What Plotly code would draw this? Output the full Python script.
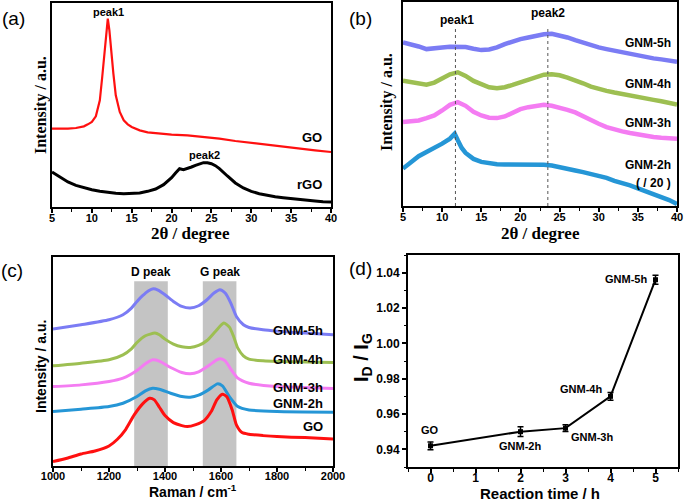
import plotly.graph_objects as go

W, H = 685, 503
SANS = "Liberation Sans, Arial, sans-serif"
SERIF = "Liberation Serif, Times New Roman, serif"

# ---------------- (a) XRD of GO and rGO ----------------
a_go_x = [5, 6, 7, 8, 9, 9.5, 10, 10.5, 11, 11.3, 11.6, 11.8, 12, 12.2, 12.4, 12.7, 13, 13.5, 14, 14.5,
          15, 16, 17, 18, 20, 22, 24, 26, 28, 30, 32, 34, 36, 38, 40]
a_go_y = [235, 234, 235, 237, 242, 248, 255, 272, 320, 390, 460, 525, 565, 530, 470, 400, 335, 285, 260, 248,
          240, 230, 224, 221, 217, 215, 211, 205, 198, 192, 187, 181, 176, 170, 165]
a_rgo_x = [5, 6, 7, 8, 9, 10, 11, 12, 13, 14, 15, 16, 17, 18, 19, 20, 20.5, 21, 21.5, 22, 22.5, 23, 23.5,
           24, 24.5, 25, 25.5, 26, 27, 28, 29, 30, 31, 32, 33, 34, 35, 36, 37, 38, 39, 40]
a_rgo_y = [105, 90, 75, 65, 58, 52, 47, 43, 41, 40, 40, 42, 47, 54, 67, 88, 102, 115, 112, 115, 120, 125, 130,
           133, 133, 130, 124, 115, 93, 72, 57, 47, 40, 35, 31, 28, 25, 22, 20, 18, 16, 15]

# ---------------- (b) XRD of GNM samples ----------------
b_x = [5, 6, 7, 8, 9, 10, 11, 12, 13, 14, 15, 16, 17, 18, 19, 20, 21, 22, 23, 24, 25, 26, 27, 28, 29, 30,
       31, 32, 33, 34, 35, 36, 37, 38, 39, 40]
b_5h = [493, 488, 481, 473, 474, 478, 480, 481, 479, 474, 470, 472, 478, 488, 496, 503, 508, 513, 518, 519,
        515, 508, 500, 492, 485, 478, 473, 468, 463, 458, 453, 449, 445, 442, 438, 435]
b_4h = [378, 373, 368, 366, 372, 385, 397, 403, 392, 377, 367, 358, 355, 358, 365, 373, 382, 390, 396, 397,
        394, 387, 380, 370, 360, 352, 347, 342, 337, 332, 328, 324, 320, 316, 310, 306]
b_3h = [253, 254, 258, 265, 273, 288, 305, 313, 302, 284, 273, 266, 265, 270, 282, 292, 298, 302, 305, 302,
        297, 290, 282, 270, 258, 248, 238, 230, 225, 220, 215, 211, 208, 206, 204, 203]
b_2h_x = [5, 6, 7, 8, 9, 10, 11, 11.6, 12, 12.5, 13, 14, 15, 16, 17, 18, 19, 20, 21, 22, 23, 24, 25, 26,
          27, 28, 29, 30, 31, 32, 33, 34, 35, 36, 37, 38, 39, 40]
b_2h = [113, 133, 150, 163, 175, 188, 203, 218, 198, 175, 160, 142, 133, 128, 126, 125, 125, 126, 127, 126,
        124, 122, 118, 113, 107, 102, 97, 93, 85, 76, 70, 62, 53, 45, 37, 28, 18, 6]
b_peak_pos = [11.7, 23.5]

# ---------------- (c) Raman ----------------
c_5h_x = [1000, 1100, 1200, 1250, 1280, 1300, 1320, 1340, 1358, 1375, 1400, 1430, 1460, 1490, 1520, 1550,
          1575, 1596, 1615, 1635, 1655, 1680, 1700, 1750, 1800, 1900, 2000]
c_5h_y = [410, 423, 438, 453, 473, 493, 510, 524, 531, 527, 513, 493, 478, 473, 480, 498,
          518, 528, 518, 488, 448, 423, 415, 408, 404, 398, 393]
c_4h_x = [1000, 1100, 1200, 1250, 1280, 1300, 1330, 1364, 1380, 1400, 1430, 1460, 1490, 1520, 1550, 1580,
          1610, 1630, 1645, 1660, 1680, 1700, 1750, 1800, 2000]
c_4h_y = [300, 308, 318, 333, 351, 370, 390, 398, 393, 380, 365, 357, 355, 361, 376, 403,
          428, 416, 388, 353, 330, 320, 315, 313, 310]
c_3h_x = [1000, 1100, 1200, 1250, 1300, 1330, 1356, 1380, 1420, 1460, 1490, 1520, 1560, 1585, 1598, 1615,
          1635, 1660, 1700, 1800, 1900, 2000]
c_3h_y = [238, 243, 253, 263, 286, 306, 318, 314, 295, 280, 276, 282, 303, 318, 321, 315,
          290, 263, 248, 238, 235, 232]
c_2h_x = [1000, 1100, 1200, 1250, 1300, 1330, 1356, 1380, 1420, 1460, 1490, 1520, 1555, 1587, 1605, 1630,
          1660, 1700, 1800, 2000]
c_2h_y = [163, 170, 178, 188, 208, 225, 233, 230, 218, 208, 206, 212, 228, 246, 240, 208,
          178, 168, 163, 161]
c_go_x = [1000, 1050, 1100, 1150, 1200, 1230, 1260, 1290, 1320, 1345, 1362, 1380, 1400, 1430, 1460, 1480,
          1510, 1540, 1565, 1585, 1605, 1620, 1640, 1655, 1675, 1700, 1750, 1800, 1900, 2000]
c_go_y = [13, 23, 36, 45, 60, 80, 110, 153, 186, 203, 198, 176, 151, 130, 121, 118,
          124, 136, 163, 198, 215, 208, 168, 123, 100, 95, 91, 88, 85, 81]
c_bands = [(1290, 1410), (1535, 1655)]
c_band_top = 553

# ---------------- (d) ID/IG ----------------
d_time = [0, 2, 3, 4, 5]
d_ratio = [0.942, 0.950, 0.952, 0.970, 1.036]
d_err = [0.0022, 0.0028, 0.0019, 0.0022, 0.0026]
d_names = ["GO", "GNM-2h", "GNM-3h", "GNM-4h", "GNM-5h"]

PURPLE = "#7b7cf4"
GREEN = "#9dbf52"
PINK = "#f47cf2"
BLUE = "#2596d6"
RED = "#ff1010"


def px(x):
    return x / W


def py(y):
    return 1 - y / H


fig = go.Figure()

# (a)
fig.add_trace(go.Scatter(x=a_go_x, y=a_go_y, mode="lines", line=dict(color=RED, width=2.2),
                         xaxis="x", yaxis="y", showlegend=False))
fig.add_trace(go.Scatter(x=a_rgo_x, y=a_rgo_y, mode="lines", line=dict(color="black", width=3),
                         xaxis="x", yaxis="y", showlegend=False))
# (b)
for xs, ys, col in [(b_x, b_5h, PURPLE), (b_x, b_4h, GREEN), (b_x, b_3h, PINK), (b_2h_x, b_2h, BLUE)]:
    fig.add_trace(go.Scatter(x=xs, y=ys, mode="lines", line=dict(color=col, width=4.5),
                             xaxis="x2", yaxis="y2", showlegend=False))
# (c)
for xs, ys, col in [(c_5h_x, c_5h_y, PURPLE), (c_4h_x, c_4h_y, GREEN), (c_3h_x, c_3h_y, PINK),
                    (c_2h_x, c_2h_y, BLUE), (c_go_x, c_go_y, RED)]:
    fig.add_trace(go.Scatter(x=xs, y=ys, mode="lines",
                             line=dict(color=col, width=3, shape="spline", smoothing=0.6),
                             xaxis="x3", yaxis="y3", showlegend=False))
# (d)
fig.add_trace(go.Scatter(x=d_time, y=d_ratio, mode="lines+markers",
                         line=dict(color="black", width=2),
                         marker=dict(symbol="square", size=5, color="black"),
                         error_y=dict(type="data", array=d_err, color="black", thickness=1.5, width=3),
                         xaxis="x4", yaxis="y4", showlegend=False))

shapes = []
for x0, x1 in c_bands:
    shapes.append(dict(type="rect", xref="x3", yref="y3", x0=x0, x1=x1, y0=0, y1=c_band_top,
                       fillcolor="#c4c4c4", line=dict(width=0), layer="below"))
for xp in b_peak_pos:
    shapes.append(dict(type="line", xref="x2", yref="y2", x0=xp, x1=xp, y0=0, y1=540,
                       line=dict(color="#555555", width=1, dash="dot")))

ann = []


def txt(text, x, y, size, family=SANS, xanchor="center", angle=0, bold=True):
    t = f"<b>{text}</b>" if bold else text
    ann.append(dict(text=t, x=px(x), y=py(y), xref="paper", yref="paper", showarrow=False,
                    xanchor=xanchor, yanchor="middle", textangle=angle,
                    font=dict(family=family, size=size, color="black")))


# panel letters
txt("(a)", 13, 18, 19, bold=False)
txt("(b)", 360, 18, 19, bold=False)
txt("(c)", 12, 270, 19, bold=False)
txt("(d)", 361, 268, 19, bold=False)

# (a) texts
txt("peak1", 108, 12, 11)
txt("GO", 324, 138, 13, xanchor="right")
txt("peak2", 204, 155, 11)
txt("rGO", 324, 185, 13, xanchor="right")
txt("Intensity / a.u.", 41, 105, 16, family=SERIF, angle=-90)
txt("2θ / degree", 190, 233, 17, family=SERIF)

# (b) texts
txt("peak1", 457, 20, 12)
txt("peak2", 548, 13, 12)
txt("GNM-5h", 673, 43, 12, xanchor="right")
txt("GNM-4h", 673, 84, 12, xanchor="right")
txt("GNM-3h", 673, 123, 12, xanchor="right")
txt("GNM-2h", 673, 165, 12, xanchor="right")
txt("( / 20 )", 653, 183, 12)
txt("Intensity / a.u.", 387, 102, 16, family=SERIF, angle=-90)
txt("2θ / degree", 540, 234, 17, family=SERIF)

# (c) texts
txt("D peak", 151, 272, 12)
txt("G peak", 220, 272, 12)
txt("GNM-5h", 325, 330, 13, xanchor="right")
txt("GNM-4h", 325, 359, 13, xanchor="right")
txt("GNM-3h", 325, 387, 13, xanchor="right")
txt("GNM-2h", 325, 403, 13, xanchor="right")
txt("GO", 325, 426, 13, xanchor="right")
txt("Intensity / a.u.", 41, 367, 14, angle=-90)
txt("Raman / cm<sup>-1</sup>", 193, 491, 14)

# (d) texts
txt("GO", 430, 430, 11)
txt("GNM-2h", 520, 446, 11)
txt("GNM-3h", 592, 437, 11)
txt("GNM-4h", 581, 389, 11)
txt("GNM-5h", 626, 279, 11)
txt("I<sub>D</sub> / I<sub>G</sub>", 362, 358, 20, angle=-90)
txt("Reaction time / h", 540, 493, 15)


def xax(domain, rng, dtick, tick0, minor_dtick, anchor, labsize=11, standoff=-4):
    return dict(domain=domain, range=rng, anchor=anchor, showline=True, linecolor="black", linewidth=2,
                mirror=True, ticks="outside", ticklen=4, tickwidth=1.5, tickcolor="black",
                dtick=dtick, tick0=tick0, showgrid=False, zeroline=False, automargin=False,
                ticklabelstandoff=standoff,
                tickfont=dict(family=SANS, size=labsize, color="black", weight="bold"),
                minor=dict(ticks="outside", ticklen=2.5, tickwidth=1.2, tickcolor="black",
                           dtick=minor_dtick, tick0=tick0, showgrid=False))


def yax_plain(domain, rng, anchor):
    return dict(domain=domain, range=rng, anchor=anchor, showline=True, linecolor="black", linewidth=2,
                mirror=True, ticks="", showticklabels=False, showgrid=False, zeroline=False,
                automargin=False)


layout = dict(
    template="none",
    width=W, height=H, margin=dict(l=0, r=0, t=0, b=0, autoexpand=False),
    paper_bgcolor="white", plot_bgcolor="white", showlegend=False,
    xaxis=xax([px(52), px(331)], [5, 40], 5, 5, 2.5, "y"),
    yaxis=yax_plain([py(207), py(3)], [0, 612], "x"),
    xaxis2=xax([px(403), px(677)], [5, 40], 5, 5, 2.5, "y2"),
    yaxis2=yax_plain([py(206), py(2)], [0, 615], "x2"),
    xaxis3=xax([px(53), px(333)], [1000, 2000], 200, 1000, 100, "y3", standoff=-5),
    yaxis3=yax_plain([py(466), py(257)], [0, 626], "x3"),
    xaxis4=xax([px(408), px(678)], [-0.5, 5.5], 1, 0, 0.5, "y4", labsize=12, standoff=-5),
    yaxis4=dict(domain=[py(467), py(255)], range=[0.93, 1.05], anchor="x4", showline=True,
                linecolor="black", linewidth=2, mirror=True, ticks="outside", ticklen=4, tickwidth=1.5,
                tickcolor="black", dtick=0.02, tick0=0.94, tickformat=".2f", showgrid=False, zeroline=False,
                automargin=False,
                tickfont=dict(family=SANS, size=12, color="black", weight="bold"),
                minor=dict(ticks="outside", ticklen=2.5, tickwidth=1.2, tickcolor="black",
                           dtick=0.01, tick0=0.94, showgrid=False)),
    shapes=shapes, annotations=ann,
)
fig.update_layout(**layout)
fig.write_html("out.html", config={"displayModeBar": False},
               post_script="document.body.style.margin='0px';")
